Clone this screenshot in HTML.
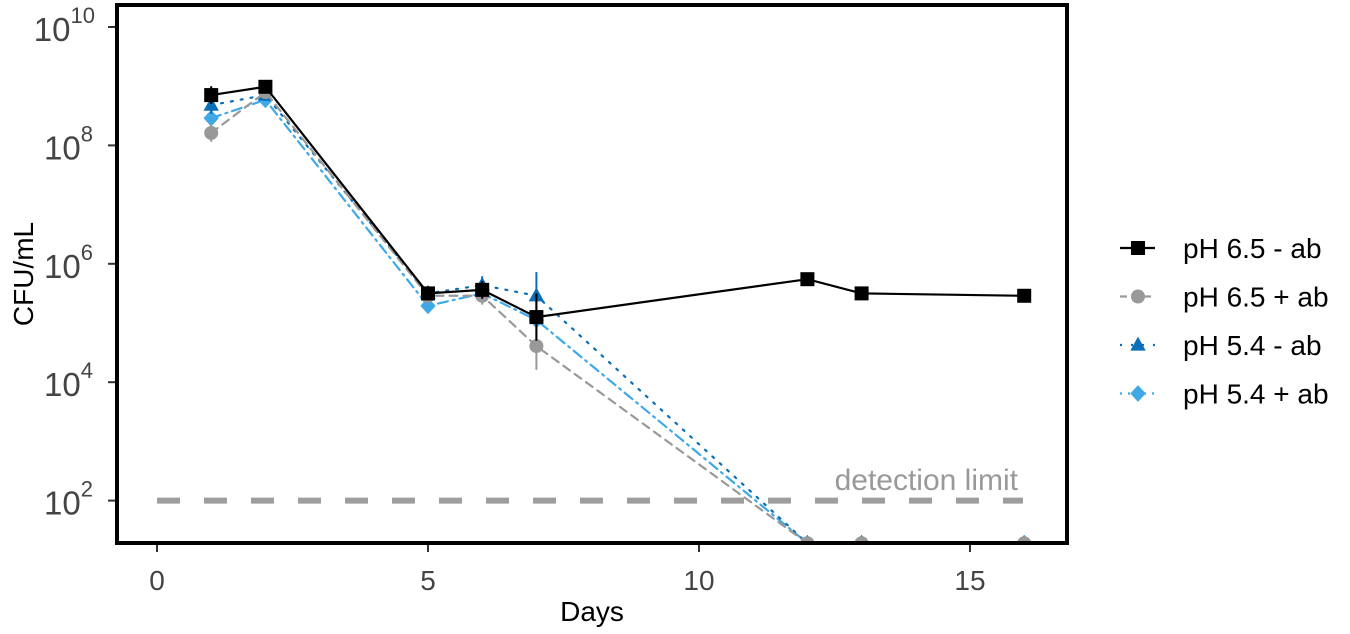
<!DOCTYPE html>
<html><head><meta charset="utf-8"><style>
body{margin:0;background:#fff;width:1350px;height:629px;overflow:hidden;font-family:"Liberation Sans",sans-serif}
</style></head><body>
<svg id="chart" width="1350" height="629" xmlns="http://www.w3.org/2000/svg" font-family="Liberation Sans, sans-serif">
<defs><clipPath id="clip"><rect x="117" y="5" width="950" height="538"/></clipPath></defs>
<g id="plot" clip-path="url(#clip)"></g>
<g id="axes"></g>
<g id="legend"></g>
</svg>
<script>
const days = [1,2,5,6,7,12,13,16];
const s65minus = [8.85,8.99,5.5,5.56,5.1,5.74,5.5,5.46];
const s65plus = [8.21,8.9,5.46,5.46,4.61,1.28,1.28,1.28];
const s54minus = [8.68,8.85,5.5,5.64,5.46,1.28,1.28,1.28];
const s54plus = [8.46,8.77,5.29,5.5,5.05,1.28,1.28,1.28];
const errLow = [0.15,0.1,0.12,0.15,0.4,0.1,0.08,0.1];
const xTicks = [0,5,10,15];
const yTicks = [2,4,6,8,10];
const detectionLimit = 2;

const NS="http://www.w3.org/2000/svg";
const X=d=>157+d*54.2;
const Y=l=>27+(10-l)*59.2;
function mk(tag,attrs,parent){const e=document.createElementNS(NS,tag);for(const k in attrs)e.setAttribute(k,attrs[k]);parent.appendChild(e);return e;}
const plot=document.getElementById('plot'),axes=document.getElementById('axes'),leg=document.getElementById('legend');

let dl=mk('line',{x1:X(0),x2:1023,y1:Y(detectionLimit),y2:Y(detectionLimit),stroke:'#9e9e9e','stroke-width':6,'stroke-dasharray':'23 24'},plot);


let dlt=mk('text',{x:1018,y:490,'font-size':30,fill:'#999','text-anchor':'end'},plot);
dlt.textContent='detection limit';



const series=[
 {name:'pH 6.5 - ab',vals:s65minus,color:'#000',dash:'',shape:'square'},
 {name:'pH 6.5 + ab',vals:s65plus,color:'#999',dash:'8 6',shape:'circle'},
 {name:'pH 5.4 - ab',vals:s54minus,color:'#0b6fb8',dash:'2 8',shape:'triangle'},
 {name:'pH 5.4 + ab',vals:s54plus,color:'#3fa9e8',dash:'10 5 2 5',shape:'diamond'}
];
function marker(shape,x,y,c,p,sz){
 let e;
 if(shape==='square')e=mk('rect',{x:x-sz,y:y-sz,width:2*sz,height:2*sz,fill:c},p);
 else if(shape==='circle')e=mk('circle',{cx:x,cy:y,r:sz,fill:c},p);
 else if(shape==='triangle')e=mk('polygon',{points:`${x},${y-sz*1.2} ${x-sz*1.1},${y+sz*0.8} ${x+sz*1.1},${y+sz*0.8}`,fill:c},p);
 else e=mk('polygon',{points:`${x},${y-sz*1.2} ${x+sz*1.1},${y} ${x},${y+sz*1.2} ${x-sz*1.1},${y}`,fill:c},p);
 return e;
}
for(let si=series.length-1;si>=0;si--){
 const s=series[si];
 const g=mk('g',{},plot);
 
 
 const pts=days.map((d,i)=>X(d)+','+Y(s.vals[i])).join(' ');
 const pl=mk('polyline',{points:pts,fill:'none',stroke:s.color,'stroke-width':2.2,'stroke-dasharray':s.dash,'stroke-linecap':'round'},g);
 
 
 days.forEach((d,i)=>{
  const x=X(d),v=s.vals[i];
  if(v>1.5){
   const eb=mk('line',{x1:x,x2:x,y1:Y(v+errLow[i]),y2:Y(v-errLow[i]),stroke:s.color,'stroke-width':2},g);
   
   
  }
  const m=marker(s.shape,x,Y(v),s.color,g,7);
  
  
 });
}
let fr=mk('rect',{x:117,y:5,width:950,height:538,fill:'none',stroke:'#000','stroke-width':4},axes);


xTicks.forEach(t=>{
 mk('line',{x1:X(t),x2:X(t),y1:545,y2:552,stroke:'#333','stroke-width':2},axes);
 const tx=mk('text',{x:X(t),y:590,'font-size':28,fill:'#444','text-anchor':'middle'},axes);
 tx.textContent=t;
 
 
});
yTicks.forEach(t=>{
 mk('line',{x1:108,x2:115,y1:Y(t),y2:Y(t),stroke:'#333','stroke-width':2},axes);
 const tx=mk('text',{x:t>=10?95:93,y:Y(t)+14,'font-size':33,fill:'#444','text-anchor':'end'},axes);
 tx.textContent='10';
 const sup=mk('tspan',{dy:-18,'font-size':22},tx);
 sup.textContent=t;
 
 
});
let xt=mk('text',{x:592,y:621,'font-size':28,fill:'#000','text-anchor':'middle'},axes);
xt.textContent='Days';


let yt=mk('text',{x:0,y:0,'font-size':28,fill:'#000','text-anchor':'middle',transform:'translate(33,274) rotate(-90)'},axes);
yt.textContent='CFU/mL';


series.forEach((s,i)=>{
 const y=248+i*48.5;
 const g=mk('g',{},leg);
 
 
 mk('line',{x1:1120,x2:1155,y1:y,y2:y,stroke:s.color,'stroke-width':2.2,'stroke-dasharray':s.dash==='2 8'?'2 9':(s.dash==='10 5 2 5'?'2 6':(s.dash?'7 5':''))},g);
 marker(s.shape,1138,y,s.color,g,7);
 const t=mk('text',{x:1183,y:y+10,'font-size':28,fill:'#000'},g);
 t.textContent=s.name;
});
</script>
</body></html>
